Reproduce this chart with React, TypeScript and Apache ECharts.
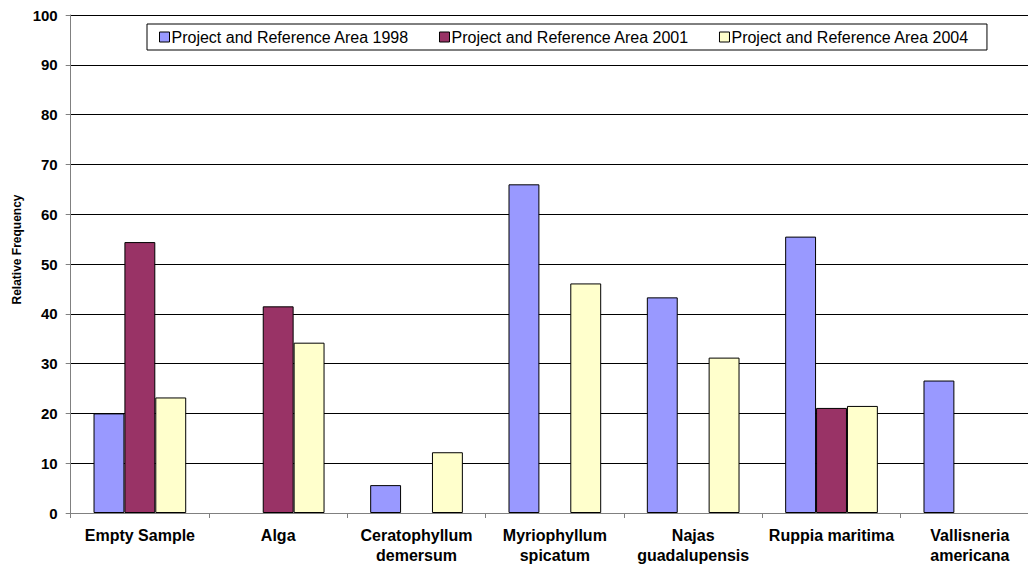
import React, { useEffect, useRef } from "react";
import * as echarts from "echarts";

const categories = [
  "Empty Sample",
  "Alga",
  "Ceratophyllum\ndemersum",
  "Myriophyllum\nspicatum",
  "Najas\nguadalupensis",
  "Ruppia maritima",
  "Vallisneria\namericana",
];
const seriesNames = [
  "Project and Reference Area 1998",
  "Project and Reference Area 2001",
  "Project and Reference Area 2004",
];
const values1998: (number | null)[] = [20.0, null, 5.6, 66.0, 43.3, 55.5, 26.6];
const values2001: (number | null)[] = [54.4, 41.5, null, null, null, 21.1, null];
const values2004: (number | null)[] = [23.2, 34.2, 12.2, 46.1, 31.2, 21.5, null];
const colors = ["#9999FF", "#993366", "#FFFFCC"];
const yTicks = { min: 0, max: 100, interval: 10 };

export default function App() {
  const ref = useRef<HTMLDivElement>(null);
  useEffect(() => {
    if (!ref.current) return;
    const chart = echarts.init(ref.current, null, { renderer: "svg" });
    const data = [values1998, values2001, values2004];
    chart.setOption({
      animation: false,
      backgroundColor: "#ffffff",
      textStyle: { fontFamily: "Liberation Sans, Arial, sans-serif" },
      grid: { left: 70.7, right: 1, top: 15, bottom: 51.7, containLabel: false },
      legend: {
        left: 147,
        top: 24,
        padding: [5, 18, 5, 12],
        borderColor: "#000000",
        borderWidth: 1,
        backgroundColor: "#ffffff",
        itemGap: 30,
        itemWidth: 10,
        itemHeight: 10,
        icon: "rect",
        selectedMode: false,
        itemStyle: { borderColor: "#000000", borderWidth: 1 },
        textStyle: {
          fontFamily: "Liberation Sans, Arial, sans-serif",
          fontSize: 16,
          color: "#000000",
          padding: [0, 0, 0, -3],
        },
        data: seriesNames,
      },
      xAxis: {
        type: "category",
        data: categories,
        axisLine: { lineStyle: { color: "#808080", width: 1 } },
        axisTick: { show: true, length: 5, lineStyle: { color: "#808080" } },
        axisLabel: {
          interval: 0,
          fontFamily: "Liberation Sans, Arial, sans-serif",
          fontSize: 16,
          fontWeight: "bold",
          color: "#000000",
          lineHeight: 20,
          margin: 12,
        },
      },
      yAxis: {
        type: "value",
        min: yTicks.min,
        max: yTicks.max,
        interval: yTicks.interval,
        axisLine: { show: true, lineStyle: { color: "#808080", width: 1 } },
        axisTick: { show: true, length: 5, lineStyle: { color: "#808080" } },
        splitLine: { show: true, lineStyle: { color: "#000000", width: 1 } },
        axisLabel: {
          fontFamily: "Liberation Sans, Arial, sans-serif",
          fontSize: 15,
          fontWeight: "bold",
          color: "#000000",
          margin: 13,
        },
      },
      graphic: [
        {
          type: "text",
          x: 16.5,
          y: 249.5,
          rotation: Math.PI / 2,
          style: {
            text: "Relative Frequency",
            fontFamily: "Liberation Sans, Arial, sans-serif",
            fontSize: 12,
            fontWeight: "bold",
            fill: "#000000",
            textAlign: "center",
            textVerticalAlign: "middle",
          },
        },
      ],
      series: seriesNames.map((name, i) => ({
        name,
        type: "bar",
        data: data[i],
        barGap: "0%",
        barCategoryGap: "33%",
        itemStyle: { color: colors[i], borderColor: "#000000", borderWidth: 1 },
      })),
    });
    return () => chart.dispose();
  }, []);
  return (
    <div
      style={{
        position: "absolute",
        left: 0,
        top: 0,
        width: 1028,
        height: 565,
        overflow: "hidden",
      }}
    >
      <div ref={ref} style={{ width: 1040, height: 565 }} />
    </div>
  );
}
